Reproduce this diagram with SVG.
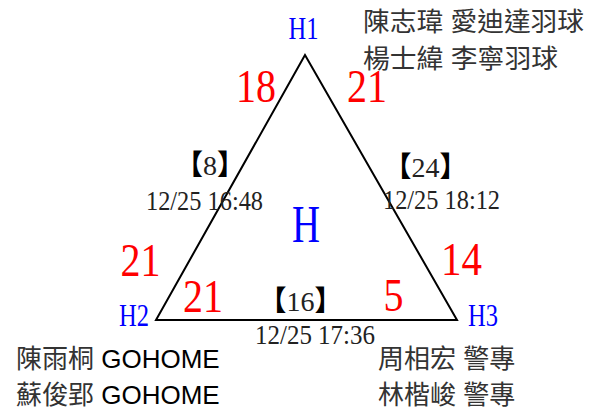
<svg xmlns="http://www.w3.org/2000/svg" width="596" height="414" viewBox="0 0 596 414">
<style>
.score{font-family:"Liberation Serif",serif;font-size:46px;fill:#ff0000;text-anchor:middle}
.vx{font-family:"Liberation Serif",serif;font-size:32px;fill:#0000ff;text-anchor:middle}
.lbl{font-family:"Liberation Serif","Noto Sans CJK TC",serif;font-size:28px;fill:#222;text-anchor:middle}
.br{font-family:"Noto Sans CJK TC",sans-serif;font-weight:bold;fill:#000}
.names{font-family:"Liberation Sans","Noto Sans CJK TC",sans-serif;font-size:26px;fill:#333}
.en{fill:#000}
.edge{fill:none;stroke:#000;stroke-width:2;stroke-linejoin:miter}
</style>
<rect width="596" height="414" fill="#fff"/>
<g id="connectors">
<path class="edge" d="M305,55 L156,320 L457,320 Z"/>
</g>
<g id="H1"><text class="vx" x="303.5" y="39" textLength="30" lengthAdjust="spacingAndGlyphs">H1</text></g>
<g id="H2"><text class="vx" x="134" y="326" textLength="30" lengthAdjust="spacingAndGlyphs">H2</text></g>
<g id="H3"><text class="vx" x="483" y="326" textLength="30" lengthAdjust="spacingAndGlyphs">H3</text></g>
<g id="H"><text class="vx" x="306" y="242" style="font-size:53px" textLength="28" lengthAdjust="spacingAndGlyphs">H</text></g>
<g id="scores">
<text class="score" x="256" y="102" textLength="40" lengthAdjust="spacingAndGlyphs">18</text>
<text class="score" x="367" y="102" textLength="40" lengthAdjust="spacingAndGlyphs">21</text>
<text class="score" x="140.5" y="276" textLength="40" lengthAdjust="spacingAndGlyphs">21</text>
<text class="score" x="203" y="312" textLength="40" lengthAdjust="spacingAndGlyphs">21</text>
<text class="score" x="461.5" y="275" textLength="41" lengthAdjust="spacingAndGlyphs">14</text>
<text class="score" x="393.5" y="311" textLength="20" lengthAdjust="spacingAndGlyphs">5</text>
</g>
<g id="edge-labels">
<text class="lbl" x="210" y="175"><tspan class="br">【</tspan>8<tspan class="br">】</tspan></text>
<text class="lbl" x="204.5" y="210" textLength="117" lengthAdjust="spacingAndGlyphs">12/25 16:48</text>
<text class="lbl" x="425.5" y="177"><tspan class="br">【</tspan>24<tspan class="br">】</tspan></text>
<text class="lbl" x="441.5" y="209" textLength="117" lengthAdjust="spacingAndGlyphs">12/25 18:12</text>
<text class="lbl" x="300.5" y="311"><tspan class="br">【</tspan>16<tspan class="br">】</tspan></text>
<text class="lbl" x="315" y="344" textLength="120" lengthAdjust="spacingAndGlyphs">12/25 17:36</text>
</g>
<g id="team-H1">
<text class="names" x="363" y="31" textLength="221" lengthAdjust="spacingAndGlyphs">陳志瑋 愛迪達羽球</text>
<text class="names" x="363" y="68" textLength="195" lengthAdjust="spacingAndGlyphs">楊士緯 李寧羽球</text>
</g>
<g id="team-H2">
<text class="names" x="16" y="368">陳雨桐 <tspan class="en">GOHOME</tspan></text>
<text class="names" x="16" y="404">蘇俊郢 <tspan class="en">GOHOME</tspan></text>
</g>
<g id="team-H3">
<text class="names" x="378" y="368">周相宏 警專</text>
<text class="names" x="378" y="404">林楷峻 警專</text>
</g>
</svg>
